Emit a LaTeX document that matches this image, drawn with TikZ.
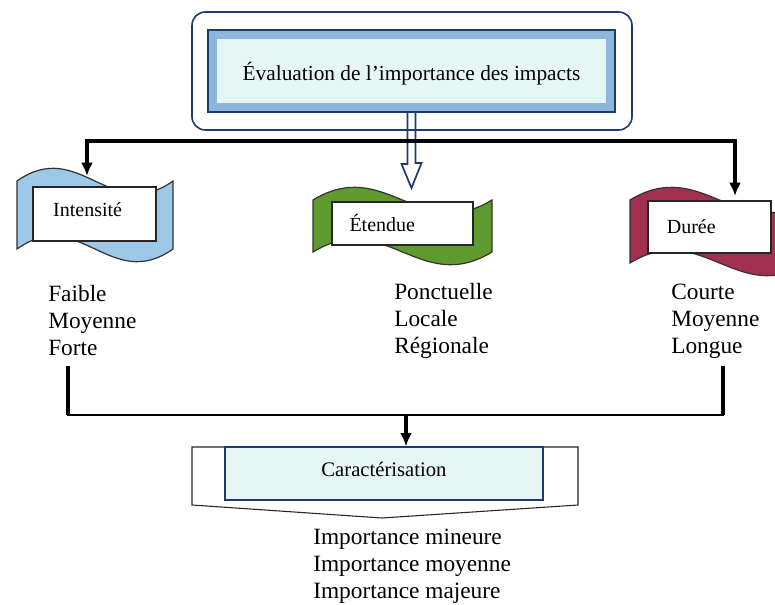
\documentclass[tikz,border=0pt]{standalone}
\usepackage{fontspec}
\setmainfont{Liberation Serif}
\usetikzlibrary{arrows.meta,fit}

\definecolor{navyline}{HTML}{1F3A70}
\definecolor{bandblue}{HTML}{8DB6DC}
\definecolor{lightcyan}{HTML}{E5F6F5}
\definecolor{flagblue}{HTML}{9DC8E8}
\definecolor{flaggreen}{HTML}{5E9A2E}
\definecolor{flagred}{HTML}{A2304F}

\tikzset{
	conn/.style={line width=2.4pt,-{Latex[length=10pt,width=9pt]}},
	flag/.style={draw=black!80,line width=0.9pt},
	whitebox/.style={draw=black!85,fill=white,line width=0.8pt,inner sep=0pt},
	boxlabel/.style={anchor=west,font=\fontsize{15}{18}\selectfont},
	listtext/.style={anchor=west,align=left,inner sep=0pt,font=\fontsize{17.5}{20.25}\selectfont},
}

\begin{document}
\begin{tikzpicture}[x=0.75pt,y=-0.75pt]
	\clip (0,0) rectangle (775,604);
	
	% title
	\draw [navyline,line width=1.2pt,rounded corners=10pt,fill=white] (192,12) rectangle (632,130);
	\node [fit={(208,30) (615,112)},inner sep=0pt,draw=navyline,line width=1.5pt,fill=bandblue] (eval) {};
	\fill [lightcyan] (217,39) rectangle (606,103);
	\node [font=\fontsize{16}{19}\selectfont] at (411.5,74) {Évaluation de l’importance des impacts};
	
	% the three flags
	\filldraw [flag,fill=flagblue] (17,181) .. controls +(62,-44) and +(-62,44) .. (173,181) -- (173,249) .. controls +(-62,44) and +(62,-44) .. (17,249) -- cycle;
	\filldraw [flag,fill=flaggreen] (313,200) .. controls +(72,-44) and +(-72,44) .. (492,200) -- (492,252) .. controls +(-72,44) and +(72,-44) .. (313,252) -- cycle;
	\filldraw [flag,fill=flagred] (630,200) .. controls +(72,-44) and +(-72,44) .. (809,200) -- (809,263) .. controls +(-72,44) and +(72,-44) .. (630,263) -- cycle;
	
	\node [whitebox,fit={(33,187) (156,241)}] (int) {};
	\node [whitebox,fit={(332,202) (473,245)}] (ete) {};
	\node [whitebox,fit={(648,201) (771,253)}] (dur) {};
	\node [boxlabel] at ([xshift=12pt,yshift=3pt]int.west) {Intensité};
	\node [boxlabel] at ([xshift=10pt]ete.west) {Étendue};
	\node [boxlabel] at ([xshift=11pt]dur.west) {Durée};
	
	% connectors from the title
	\coordinate (eteTip) at (411.5,188);
	\draw [navyline,line width=1.3pt] ([xshift=-3pt]eval.south) -- ++(0,51) -- ++(-6,0) -- (eteTip) -- ++(10,-25) -- ++(-6,0) -- ([xshift=3pt]eval.south);
	\coordinate (intTip) at (87,176);
	\coordinate (durTip) at (735,196);
	\coordinate (topbar) at (411.5,141);
	\draw [conn,{Latex[length=10pt,width=9pt]}-{Latex[length=10pt,width=9pt]}] (intTip) |- (topbar) -| (durTip);
	
	\node [listtext] (intList) at (48,321) {Faible\\Moyenne\\Forte};
	\node [listtext] (eteList) at (394,321) {Ponctuelle\\Locale\\Régionale};
	\node [listtext] (durList) at (671,321) {Courte\\Moyenne\\Longue};
	
	% characterisation
	\filldraw [draw=black!85,fill=white,line width=0.8pt] (192,447) -- (578,447) -- (578,505) -- (382,518) -- (192,505) -- cycle;
	\node [fit={(225,447) (543,500)},inner sep=0pt,draw=navyline,line width=0.9pt,fill=lightcyan] (car) {};
	\node [font=\fontsize{15.5}{18}\selectfont] at (384,469) {Caractérisation};
	
	\coordinate (intEnd) at (68,366);
	\coordinate (durEnd) at (723,366);
	\coordinate (lowbar) at (406,415);
	\draw [line width=1.5pt] (intEnd) |- (lowbar) -| (durEnd);
	\draw [line width=2.6pt] (intEnd) -- (intEnd |- lowbar);
	\draw [line width=2.6pt] (durEnd) -- (durEnd |- lowbar);
	\draw [conn] (lowbar) -- (lowbar |- car.north);
	
	\node [listtext] (carList) at (313,566) {Importance mineure\\Importance moyenne\\Importance majeure};
\end{tikzpicture}
\end{document}
